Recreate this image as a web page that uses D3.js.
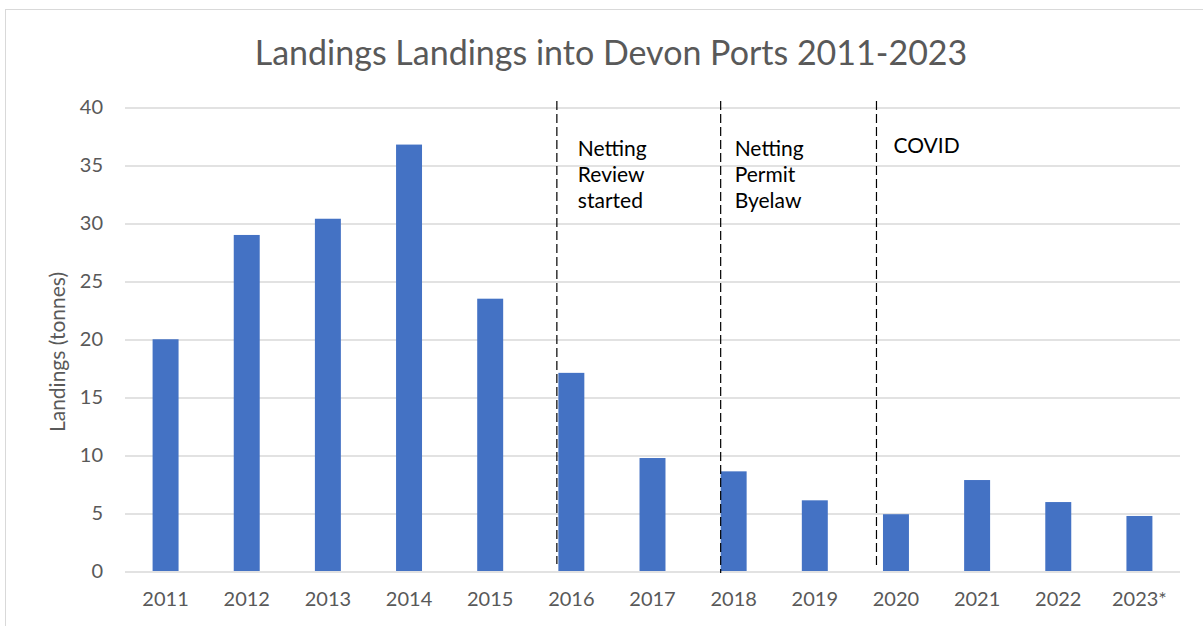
<!DOCTYPE html>
<html>
<head>
<meta charset="utf-8">
<script src="https://cdn.jsdelivr.net/npm/d3@7"></script>
<style>
  body { margin: 0; background: #fff; }
  svg { display: block; }
</style>
</head>
<body>
<div class="chart"></div>
<script>

// data
var years = ["2011","2012","2013","2014","2015","2016","2017","2018","2019","2020","2021","2022","2023*"];
var landings = [20.0, 29.0, 30.4, 36.8, 23.5, 17.1, 9.75, 8.6, 6.1, 4.9, 7.85, 5.95, 4.75];
var yTicks = [0, 5, 10, 15, 20, 25, 30, 35, 40];
var eventYears = ["2016", "2018", "2020"];
var eventLabels = [["Netting", "Review", "started"], ["Netting", "Permit", "Byelaw"], ["COVID"]];

var W = 1203, H = 626;
var margin = {top: 107.5, right: 23, bottom: 55, left: 125},
    width = W - margin.left - margin.right,
    height = H - margin.top - margin.bottom;

var font = 'Lato, "Open Sans", sans-serif';
var grey = "#595959";

var root = d3.select('.chart')
	.append("svg")
	.attr("width", W)
	.attr("height", H);

// outer border
root.append("rect")
	.attr("x", 5.5)
	.attr("y", 9.5)
	.attr("width", W + 20)
	.attr("height", H + 20)
	.attr("fill", "none")
	.attr("stroke", "#d9d9d9")
	.attr("stroke-width", 1);

root.append("text")
	.attr("x", 611)
	.attr("y", 65)
	.attr("text-anchor", "middle")
	.style("font-family", font)
	.style("font-size", "34px")
	.style("fill", grey)
	.text("Landings Landings into Devon Ports 2011-2023");

var svg = root.append("g")
	.attr("transform", "translate(" + margin.left + "," + margin.top + ")");

var x = d3.scaleBand()
	.domain(years)
	.range([0, width])
	.paddingInner(0.68)
	.paddingOuter(0.34);

var y = d3.scaleLinear()
	.domain([0, 40])
	.range([height, 0]);

// gridlines
svg.append("g")
	.selectAll("line")
	.data(yTicks)
	.enter()
	.append("line")
	.attr("x1", 0)
	.attr("x2", width)
	.attr("y1", function(d) { return Math.round(y(d)) + 0.5; })
	.attr("y2", function(d) { return Math.round(y(d)) + 0.5; })
	.attr("stroke", "#d9d9d9")
	.attr("stroke-width", 1.3);

// y axis labels
var yAxis = svg.append("g")
	.call(d3.axisLeft(y).tickValues(yTicks).tickSize(0).tickPadding(22));
yAxis.select(".domain").remove();
yAxis.selectAll("text")
	.style("font-family", font)
	.style("font-size", "20px")
	.style("fill", grey);

// x axis labels
var xAxis = svg.append("g")
	.attr("transform", "translate(0," + height + ")")
	.call(d3.axisBottom(x).tickSize(0).tickPadding(21));
xAxis.select(".domain").remove();
xAxis.selectAll("text")
	.style("font-family", font)
	.style("font-size", "20px")
	.style("fill", grey);

// y axis title
root.append("text")
	.attr("transform", "translate(65," + 352 + ") rotate(-90)")
	.attr("text-anchor", "middle")
	.style("font-family", font)
	.style("font-size", "21px")
	.style("fill", grey)
	.text("Landings (tonnes)");

// bars
svg.append("g")
	.selectAll("rect")
	.data(landings)
	.enter()
	.append("rect")
	.attr("x", function(d, i) { return x(years[i]); })
	.attr("y", function(d) { return y(d); })
	.attr("width", x.bandwidth())
	.attr("height", function(d) { return height - y(d); })
	.attr("fill", "#4472c4");

// event markers (dashed lines just left of the bar)
var lineShift = {"2016": -1.5, "2018": 0, "2020": -6.5};
var lineBottom = {"2016": 564, "2018": 573, "2020": 566};

eventYears.forEach(function(yr, i) {
	var lx = x(yr) + lineShift[yr];
	root.append("line")
		.attr("x1", margin.left + lx)
		.attr("x2", margin.left + lx)
		.attr("y1", 101)
		.attr("y2", lineBottom[yr])
		.attr("stroke", "#000")
		.attr("stroke-width", 1.2)
		.attr("stroke-dasharray", "9,4");

	var t = root.append("text")
		.attr("y", i == 2 ? 153 : 156)
		.style("font-family", font)
		.style("font-size", "21px")
		.style("fill", "#000");
	eventLabels[i].forEach(function(s, j) {
		t.append("tspan")
			.attr("x", margin.left + lx + (i == 2 ? 17 : (i == 0 ? 21 : 14)))
			.attr("dy", j == 0 ? 0 : 26)
			.text(s);
	});
});

</script>
</body>
</html>
